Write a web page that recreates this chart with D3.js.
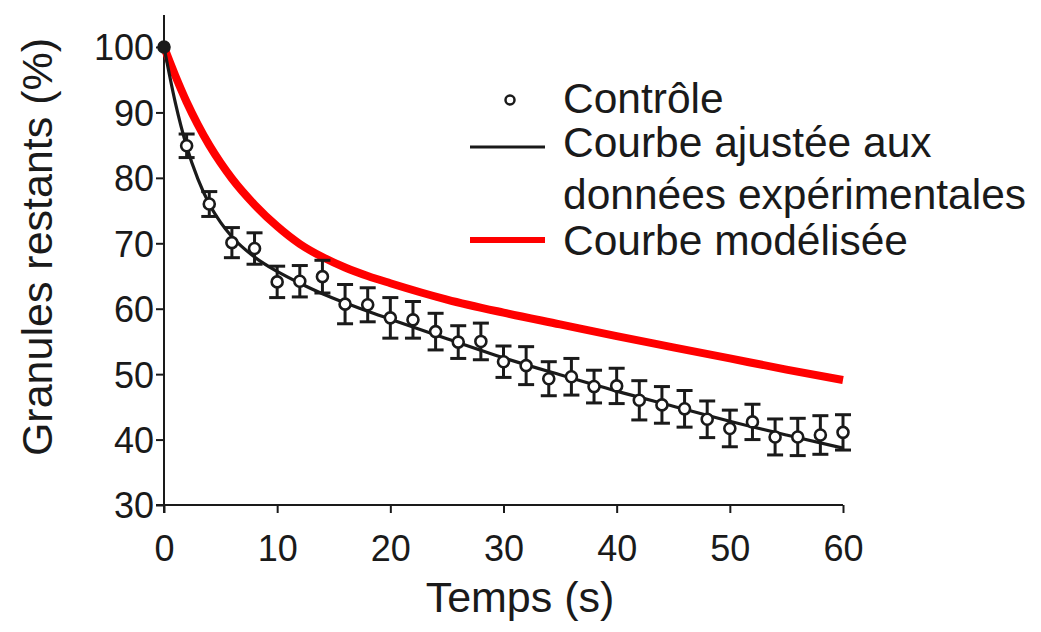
<!DOCTYPE html>
<html><head><meta charset="utf-8">
<script src="https://cdn.jsdelivr.net/npm/d3@7"></script>
<style>body{margin:0;background:#fff}svg{display:block}text{font-family:"Liberation Sans",Arial,sans-serif;fill:#1a1a1a}</style>
</head><body>
<script>
// Data
const times = [0,2,4,6,8,10,12,14,16,18,20,22,24,26,28,30,32,34,36,38,40,42,44,46,48,50,52,54,56,58,60];
const controlMean = [100,84.9,76.0,70.1,69.2,64.1,64.2,64.9,60.7,60.6,58.6,58.3,56.5,54.9,55.0,51.9,51.3,49.3,49.6,48.1,48.2,46.0,45.3,44.7,43.1,41.7,42.7,40.4,40.4,40.7,41.1];
const controlErr = [0,1.8,1.9,2.3,2.4,2.4,2.4,2.5,3.0,2.6,3.1,2.8,2.8,2.5,2.8,2.4,2.9,2.6,2.8,2.5,2.7,3.0,2.8,2.8,2.8,2.8,2.7,2.75,2.85,2.95,2.7];
const fitT = [0,1,2,3,4,5,6,8,10,12,14,16,18,20,25,30,35,40,45,50,55,60];
const fitY = [100,91.5,84.8,79.8,76.0,73.2,71.0,67.9,65.7,63.9,62.3,60.9,59.6,58.4,55.4,52.5,49.9,47.4,45.1,42.8,40.7,38.7];
const modelT = [0,1,2,3,4,5,6,8,10,12,14,16,18,20,25,30,35,40,45,50,55,60];
const modelY = [100,95.6,91.6,88.1,85.0,82.3,79.9,75.9,72.6,69.9,67.9,66.3,65.0,63.9,61.4,59.4,57.6,55.8,54.1,52.4,50.7,49.1];
const xTicks = [0,10,20,30,40,50,60];
const yTicks = [30,40,50,60,70,80,90,100];
const legendLabels = ["Contrôle","Courbe ajustée aux","données expérimentales","Courbe modélisée"];
const xTitle = "Temps (s)";
const yTitle = "Granules restants (%)";

const W = 1041, H = 632;
const svg = d3.select("body").append("svg").attr("width", W).attr("height", H);
const x = d3.scaleLinear().domain([0,60]).range([164,843]);
const y = d3.scaleLinear().domain([30,100]).range([505,47]);
const ink = "#1a1a1a";

// axes
const xAxis = svg.append("g").attr("transform","translate(0,505)")
  .call(d3.axisBottom(x).tickValues(xTicks).tickSize(8).tickSizeOuter(0).tickPadding(22));
const yAxis = svg.append("g").attr("transform","translate(164,0)")
  .call(d3.axisLeft(y).tickValues(yTicks).tickSize(8).tickSizeOuter(0).tickPadding(2));
[xAxis,yAxis].forEach(g=>{
  g.selectAll("path.domain").remove();
  g.selectAll(".tick line").attr("stroke",ink).attr("stroke-width",2);
  g.selectAll(".tick text").attr("fill",ink).style("font-size","36px").style("font-family","'Liberation Sans',Arial,sans-serif");
});
xAxis.selectAll(".tick text").attr("dy","0.71em");
yAxis.selectAll(".tick text").attr("dy","0.36em");
// axis lines
svg.append("line").attr("x1",156).attr("x2",x(60)).attr("y1",505).attr("y2",505).attr("stroke",ink).attr("stroke-width",2);
svg.append("line").attr("x1",164).attr("x2",164).attr("y1",y(104.9)).attr("y2",513).attr("stroke",ink).attr("stroke-width",2);

// titles
svg.append("text").attr("x",520).attr("y",612).attr("text-anchor","middle").style("font-size","43px").text(xTitle);
svg.append("text").attr("transform","translate(52,247) rotate(-90)").attr("text-anchor","middle").style("font-size","43px").text(yTitle);

// curves
const line = d3.line().curve(d3.curveMonotoneX).x(d=>x(d[0])).y(d=>y(d[1]));
svg.append("path").datum(modelT.map((t,i)=>[t,modelY[i]])).attr("d",line)
  .attr("fill","none").attr("stroke","#ff0000").attr("stroke-width",8);
svg.append("path").datum(fitT.map((t,i)=>[t,fitY[i]])).attr("d",line)
  .attr("fill","none").attr("stroke",ink).attr("stroke-width",3.2);

// error bars and markers
const pts = times.map((t,i)=>({t,m:controlMean[i],e:controlErr[i]}));
const eb = svg.append("g").attr("stroke",ink).attr("stroke-width",3);
pts.filter(d=>d.e>0).forEach(d=>{
  eb.append("line").attr("x1",x(d.t)).attr("x2",x(d.t)).attr("y1",y(d.m+d.e)).attr("y2",y(d.m-d.e));
  eb.append("line").attr("x1",x(d.t)-8).attr("x2",x(d.t)+8).attr("y1",y(d.m+d.e)).attr("y2",y(d.m+d.e));
  eb.append("line").attr("x1",x(d.t)-8).attr("x2",x(d.t)+8).attr("y1",y(d.m-d.e)).attr("y2",y(d.m-d.e));
});
svg.append("g").selectAll("circle").data(pts).join("circle")
  .attr("cx",d=>x(d.t)).attr("cy",d=>y(d.m)).attr("r",5.5)
  .attr("fill",d=>d.e>0?"#fff":ink).attr("stroke",ink).attr("stroke-width",2.6);

// legend
const lg = svg.append("g");
lg.append("circle").attr("cx",510).attr("cy",100).attr("r",4.5).attr("fill","#fff").attr("stroke",ink).attr("stroke-width",2.5);
lg.append("line").attr("x1",470).attr("x2",545).attr("y1",147).attr("y2",147).attr("stroke",ink).attr("stroke-width",3);
lg.append("line").attr("x1",470).attr("x2",545).attr("y1",240).attr("y2",240).attr("stroke","#ff0000").attr("stroke-width",6);
const lgY = [113,157,209,255];
legendLabels.forEach((s,i)=>lg.append("text").attr("x",563).attr("y",lgY[i]).style("font-size","42.5px").text(s));
</script>
</body></html>
